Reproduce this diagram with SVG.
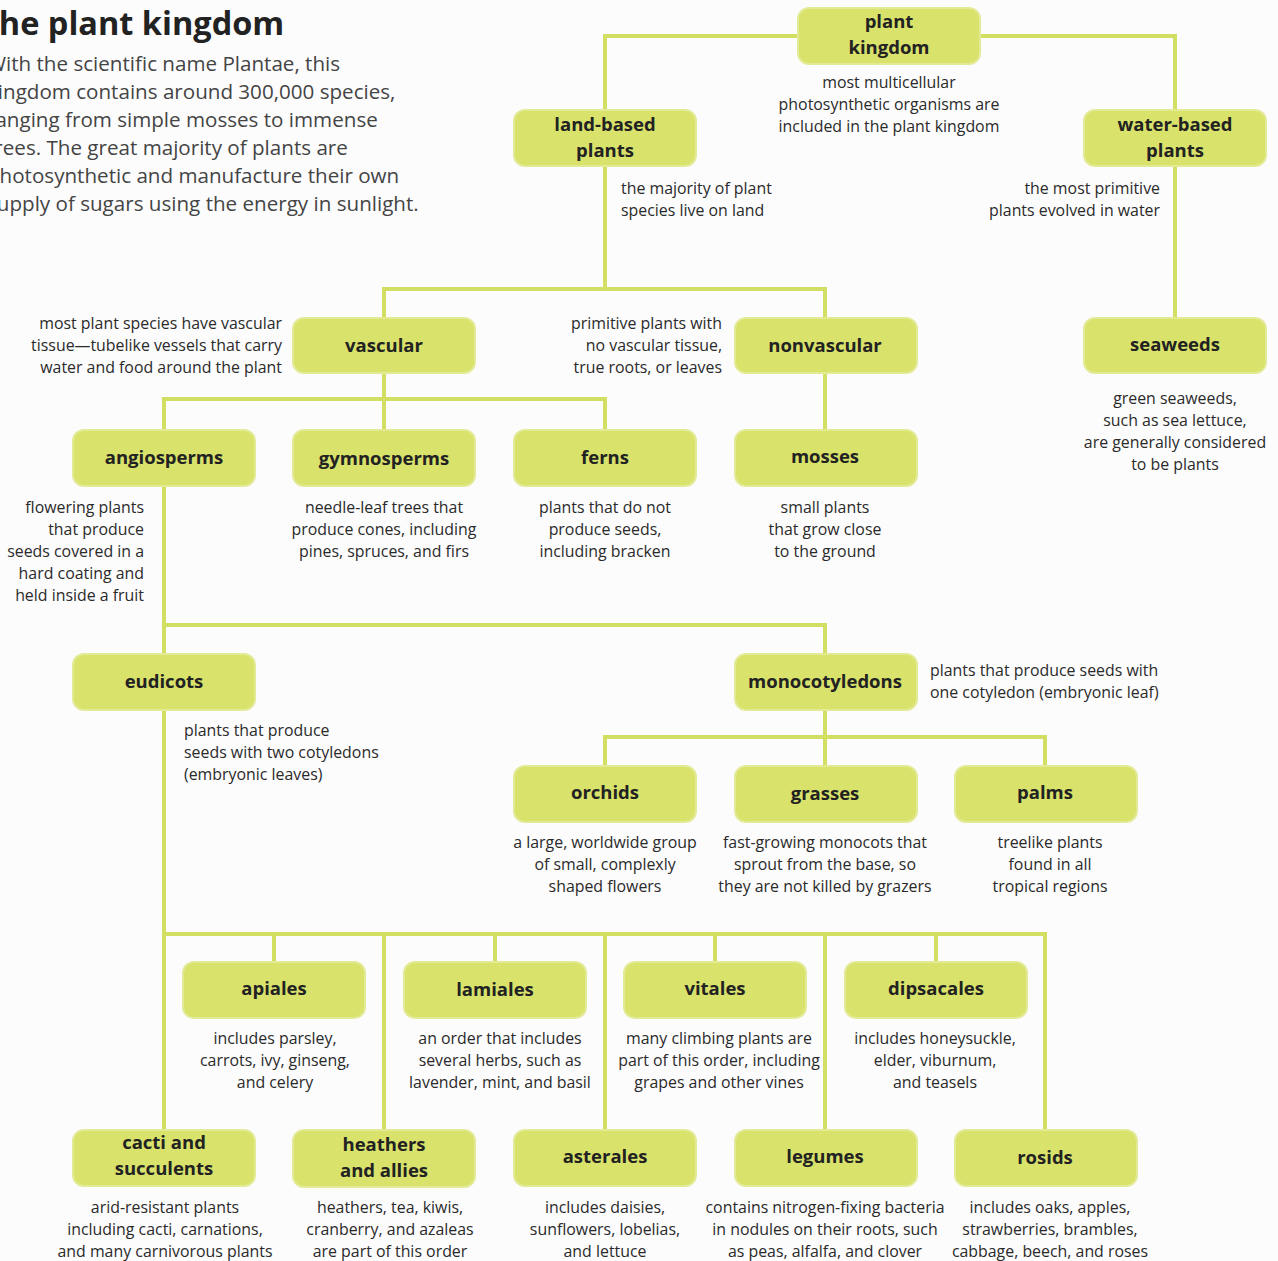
<svg xmlns="http://www.w3.org/2000/svg" width="1278" height="1261" viewBox="0 0 1278 1261">
<style>
.bg{fill:#fcfcfd}
.box{fill:#d9e26b;stroke:#e3ea95;stroke-width:2}
.lbl{font-family:"Open Sans","Noto Sans",sans-serif;font-weight:bold;font-size:18.5px;fill:#222;text-anchor:middle}
.d{font-family:"Open Sans","Noto Sans",sans-serif;font-size:15.9px;fill:#2a2a2a}
.c{text-anchor:middle}
.r{text-anchor:end}
.l{text-anchor:start}
.ln{stroke:#d3df62;stroke-width:4;fill:none}
.title{font-family:"Open Sans","Noto Sans",sans-serif;font-weight:bold;font-size:32.5px;fill:#222}
.intro{font-family:"Open Sans","Noto Sans",sans-serif;font-size:20.6px;fill:#444}
</style>
<rect class="bg" x="0" y="0" width="1278" height="1261"/>
<g id="heading">
<text class="title" x="-20" y="35">The plant kingdom</text>
<text class="intro" x="-13" y="71">With the scientific name Plantae, this</text>
<text class="intro" x="-13" y="99">kingdom contains around 300,000 species,</text>
<text class="intro" x="-13" y="127">ranging from simple mosses to immense</text>
<text class="intro" x="-13" y="155">trees. The great majority of plants are</text>
<text class="intro" x="-13" y="183">photosynthetic and manufacture their own</text>
<text class="intro" x="-13" y="211">supply of sugars using the energy in sunlight.</text>
</g>
<g id="connectors">
<path class="ln" d="M605 110V36H1175V110"/>
<path class="ln" d="M605 166V289"/>
<path class="ln" d="M384 318V289H825V318"/>
<path class="ln" d="M1175 166V318"/>
<path class="ln" d="M384 373V399"/>
<path class="ln" d="M164 430V399H605V430"/>
<path class="ln" d="M384 399V430"/>
<path class="ln" d="M825 373V430"/>
<path class="ln" d="M164 486V625H825V654"/>
<path class="ln" d="M164 625V654"/>
<path class="ln" d="M825 710V737"/>
<path class="ln" d="M605 766V737H1045V766"/>
<path class="ln" d="M825 737V766"/>
<path class="ln" d="M164 710V1130"/>
<path class="ln" d="M164 934H1045V1130"/>
<path class="ln" d="M274 934V962M495 934V962M715 934V962M936 934V962"/>
<path class="ln" d="M384 934V1130M605 934V1130M825 934V1130"/>
</g>
<g id="n-plant-kingdom"><rect class="box" x="798" y="8" width="182" height="56" rx="11"/><text class="lbl" x="889" y="28">plant</text><text class="lbl" x="889" y="54">kingdom</text>
<text class="d c" x="889" y="88">most multicellular</text><text class="d c" x="889" y="110">photosynthetic organisms are</text><text class="d c" x="889" y="132">included in the plant kingdom</text></g>
<g id="n-land"><rect class="box" x="514" y="110" width="182" height="56" rx="11"/><text class="lbl" x="605" y="131">land-based</text><text class="lbl" x="605" y="157">plants</text>
<text class="d l" x="621" y="194">the majority of plant</text><text class="d l" x="621" y="216">species live on land</text></g>
<g id="n-water"><rect class="box" x="1084" y="110" width="182" height="56" rx="11"/><text class="lbl" x="1175" y="131">water-based</text><text class="lbl" x="1175" y="157">plants</text>
<text class="d r" x="1160" y="194">the most primitive</text><text class="d r" x="1160" y="216">plants evolved in water</text></g>
<g id="n-vascular"><rect class="box" x="293" y="318" width="182" height="55" rx="11"/><text class="lbl" x="384" y="352">vascular</text>
<text class="d r" x="282" y="329">most plant species have vascular</text><text class="d r" x="282" y="351">tissue—tubelike vessels that carry</text><text class="d r" x="282" y="373">water and food around the plant</text></g>
<g id="n-nonvascular"><rect class="box" x="735" y="318" width="182" height="55" rx="11"/><text class="lbl" x="825" y="352">nonvascular</text>
<text class="d r" x="722" y="329">primitive plants with</text><text class="d r" x="722" y="351">no vascular tissue,</text><text class="d r" x="722" y="373">true roots, or leaves</text></g>
<g id="n-seaweeds"><rect class="box" x="1084" y="318" width="182" height="55" rx="11"/><text class="lbl" x="1175" y="351">seaweeds</text>
<text class="d c" x="1175" y="404">green seaweeds,</text><text class="d c" x="1175" y="426">such as sea lettuce,</text><text class="d c" x="1175" y="448">are generally considered</text><text class="d c" x="1175" y="470">to be plants</text></g>
<g id="n-angiosperms"><rect class="box" x="73" y="430" width="182" height="56" rx="11"/><text class="lbl" x="164" y="464">angiosperms</text>
<text class="d r" x="144" y="513">flowering plants</text><text class="d r" x="144" y="535">that produce</text><text class="d r" x="144" y="557">seeds covered in a</text><text class="d r" x="144" y="579">hard coating and</text><text class="d r" x="144" y="601">held inside a fruit</text></g>
<g id="n-gymnosperms"><rect class="box" x="293" y="430" width="182" height="56" rx="11"/><text class="lbl" x="384" y="465">gymnosperms</text>
<text class="d c" x="384" y="513">needle-leaf trees that</text><text class="d c" x="384" y="535">produce cones, including</text><text class="d c" x="384" y="557">pines, spruces, and firs</text></g>
<g id="n-ferns"><rect class="box" x="514" y="430" width="182" height="56" rx="11"/><text class="lbl" x="605" y="464">ferns</text>
<text class="d c" x="605" y="513">plants that do not</text><text class="d c" x="605" y="535">produce seeds,</text><text class="d c" x="605" y="557">including bracken</text></g>
<g id="n-mosses"><rect class="box" x="735" y="430" width="182" height="56" rx="11"/><text class="lbl" x="825" y="463">mosses</text>
<text class="d c" x="825" y="513">small plants</text><text class="d c" x="825" y="535">that grow close</text><text class="d c" x="825" y="557">to the ground</text></g>
<g id="n-eudicots"><rect class="box" x="73" y="654" width="182" height="56" rx="11"/><text class="lbl" x="164" y="688">eudicots</text>
<text class="d l" x="184" y="736">plants that produce</text><text class="d l" x="184" y="758">seeds with two cotyledons</text><text class="d l" x="184" y="780">(embryonic leaves)</text></g>
<g id="n-monocots"><rect class="box" x="735" y="654" width="182" height="56" rx="11"/><text class="lbl" x="825" y="688">monocotyledons</text>
<text class="d l" x="930" y="676">plants that produce seeds with</text><text class="d l" x="930" y="698">one cotyledon (embryonic leaf)</text></g>
<g id="n-orchids"><rect class="box" x="514" y="766" width="182" height="56" rx="11"/><text class="lbl" x="605" y="799">orchids</text>
<text class="d c" x="605" y="848">a large, worldwide group</text><text class="d c" x="605" y="870">of small, complexly</text><text class="d c" x="605" y="892">shaped flowers</text></g>
<g id="n-grasses"><rect class="box" x="735" y="766" width="182" height="56" rx="11"/><text class="lbl" x="825" y="800">grasses</text>
<text class="d c" x="825" y="848">fast-growing monocots that</text><text class="d c" x="825" y="870">sprout from the base, so</text><text class="d c" x="825" y="892">they are not killed by grazers</text></g>
<g id="n-palms"><rect class="box" x="955" y="766" width="182" height="56" rx="11"/><text class="lbl" x="1045" y="799">palms</text>
<text class="d c" x="1050" y="848">treelike plants</text><text class="d c" x="1050" y="870">found in all</text><text class="d c" x="1050" y="892">tropical regions</text></g>
<g id="n-apiales"><rect class="box" x="183" y="962" width="182" height="56" rx="11"/><text class="lbl" x="274" y="995">apiales</text>
<text class="d c" x="275" y="1044">includes parsley,</text><text class="d c" x="275" y="1066">carrots, ivy, ginseng,</text><text class="d c" x="275" y="1088">and celery</text></g>
<g id="n-lamiales"><rect class="box" x="404" y="962" width="182" height="56" rx="11"/><text class="lbl" x="495" y="996">lamiales</text>
<text class="d c" x="500" y="1044">an order that includes</text><text class="d c" x="500" y="1066">several herbs, such as</text><text class="d c" x="500" y="1088">lavender, mint, and basil</text></g>
<g id="n-vitales"><rect class="box" x="624" y="962" width="182" height="56" rx="11"/><text class="lbl" x="715" y="995">vitales</text>
<text class="d c" x="719" y="1044">many climbing plants are</text><text class="d c" x="719" y="1066">part of this order, including</text><text class="d c" x="719" y="1088">grapes and other vines</text></g>
<g id="n-dipsacales"><rect class="box" x="845" y="962" width="182" height="56" rx="11"/><text class="lbl" x="936" y="995">dipsacales</text>
<text class="d c" x="935" y="1044">includes honeysuckle,</text><text class="d c" x="935" y="1066">elder, viburnum,</text><text class="d c" x="935" y="1088">and teasels</text></g>
<g id="n-cacti"><rect class="box" x="73" y="1130" width="182" height="56" rx="11"/><text class="lbl" x="164" y="1149">cacti and</text><text class="lbl" x="164" y="1175">succulents</text>
<text class="d c" x="165" y="1213">arid-resistant plants</text><text class="d c" x="165" y="1235">including cacti, carnations,</text><text class="d c" x="165" y="1257">and many carnivorous plants</text></g>
<g id="n-heathers"><rect class="box" x="293" y="1130" width="182" height="57" rx="11"/><text class="lbl" x="384" y="1151">heathers</text><text class="lbl" x="384" y="1177">and allies</text>
<text class="d c" x="390" y="1213">heathers, tea, kiwis,</text><text class="d c" x="390" y="1235">cranberry, and azaleas</text><text class="d c" x="390" y="1257">are part of this order</text></g>
<g id="n-asterales"><rect class="box" x="514" y="1130" width="182" height="56" rx="11"/><text class="lbl" x="605" y="1163">asterales</text>
<text class="d c" x="605" y="1213">includes daisies,</text><text class="d c" x="605" y="1235">sunflowers, lobelias,</text><text class="d c" x="605" y="1257">and lettuce</text></g>
<g id="n-legumes"><rect class="box" x="735" y="1130" width="182" height="56" rx="11"/><text class="lbl" x="825" y="1163">legumes</text>
<text class="d c" x="825" y="1213">contains nitrogen-fixing bacteria</text><text class="d c" x="825" y="1235">in nodules on their roots, such</text><text class="d c" x="825" y="1257">as peas, alfalfa, and clover</text></g>
<g id="n-rosids"><rect class="box" x="955" y="1130" width="182" height="56" rx="11"/><text class="lbl" x="1045" y="1164">rosids</text>
<text class="d c" x="1050" y="1213">includes oaks, apples,</text><text class="d c" x="1050" y="1235">strawberries, brambles,</text><text class="d c" x="1050" y="1257">cabbage, beech, and roses</text></g>
</svg>
